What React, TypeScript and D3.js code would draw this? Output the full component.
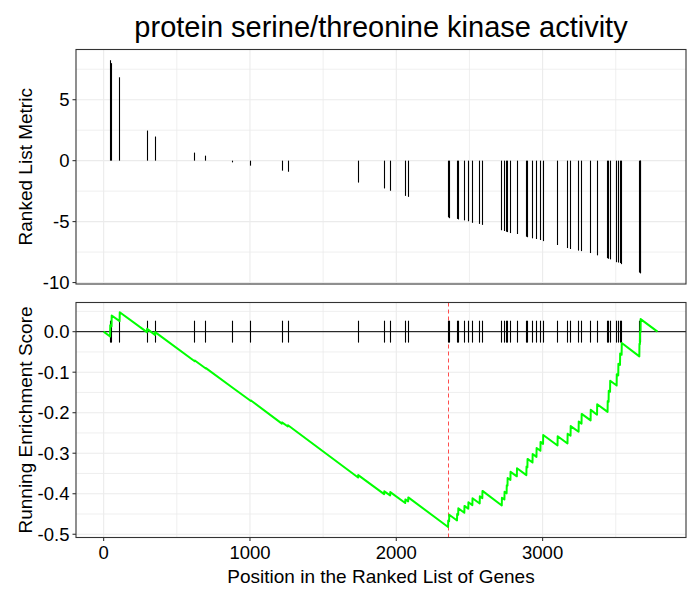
import React from "react";
import * as d3 from "d3";

const TITLE = "protein serine/threonine kinase activity";
const X_LABEL = "Position in the Ranked List of Genes";
const TOP_Y_LABEL = "Ranked List Metric";
const BOTTOM_Y_LABEL = "Running Enrichment Score";

// positions (rank) of the genes of the set in the ranked list
const hitPositions = [
  45, 55, 110, 297, 352, 623, 699, 884, 1007, 1219, 1260, 1740, 1918, 1959, 2062, 2082,
  2355, 2362, 2416, 2424, 2466, 2493, 2521, 2571, 2589, 2722, 2740, 2755, 2761, 2781,
  2825, 2890, 2897, 2932, 2959, 2986, 3004, 3103, 3171, 3192, 3247, 3267, 3329, 3373,
  3445, 3452, 3462, 3507, 3518, 3530, 3541, 3662, 3666, 3670,
];

// ranked list metric of those genes
const metricValues = [
  8.24, 8.0, 6.84, 2.47, 1.98, 0.66, 0.41, -0.14, -0.41, -0.82, -0.91, -1.8, -2.28, -2.47, -2.89, -2.97,
  -4.65, -4.72, -4.78, -4.82, -4.9, -4.97, -5.1, -5.19, -5.27, -5.71, -5.77, -5.83, -5.86, -5.94,
  -6.02, -6.24, -6.28, -6.37, -6.43, -6.51, -6.6, -6.92, -7.17, -7.25, -7.38, -7.42, -7.58, -7.77,
  -8.0, -8.05, -8.1, -8.33, -8.36, -8.4, -8.49, -9.18, -9.22, -9.25,
];

// running enrichment score vertices [position, score]
const runningScore: [number, number][] = [
  [0, 0.0],
  [44, -0.012], [45, 0.016], [54, 0.013], [55, 0.04], [109, 0.026], [110, 0.048],
  [296, -0.001], [297, 0.007], [351, -0.008], [352, -0.001], [622, -0.073], [623, -0.071],
  [698, -0.091], [699, -0.09], [884, -0.139], [1006, -0.171], [1007, -0.17],
  [1218, -0.227], [1219, -0.224], [1259, -0.234], [1260, -0.231], [1739, -0.36], [1740, -0.354],
  [1917, -0.401], [1918, -0.394], [1958, -0.404], [1959, -0.396], [2061, -0.423], [2062, -0.414],
  [2081, -0.419], [2082, -0.409], [2354, -0.482], [2355, -0.466], [2361, -0.468], [2362, -0.452],
  [2415, -0.466], [2416, -0.45], [2423, -0.452], [2424, -0.436], [2465, -0.447], [2466, -0.43],
  [2492, -0.437], [2493, -0.421], [2520, -0.428], [2521, -0.411], [2570, -0.424], [2571, -0.406],
  [2588, -0.411], [2589, -0.393], [2721, -0.429], [2722, -0.41], [2739, -0.414], [2740, -0.395],
  [2754, -0.399], [2755, -0.379], [2760, -0.38], [2761, -0.361], [2780, -0.366], [2781, -0.346],
  [2824, -0.357], [2825, -0.337], [2889, -0.354], [2890, -0.333], [2896, -0.335], [2897, -0.314],
  [2931, -0.323], [2932, -0.302], [2958, -0.309], [2959, -0.287], [2985, -0.294], [2986, -0.272],
  [3003, -0.277], [3004, -0.255], [3102, -0.281], [3103, -0.258], [3170, -0.276], [3171, -0.252],
  [3191, -0.257], [3192, -0.233], [3246, -0.247], [3247, -0.222], [3266, -0.227], [3267, -0.203],
  [3328, -0.219], [3329, -0.193], [3372, -0.205], [3373, -0.179], [3444, -0.198], [3445, -0.171],
  [3451, -0.173], [3452, -0.146], [3461, -0.148], [3462, -0.121], [3506, -0.133], [3507, -0.105],
  [3517, -0.108], [3518, -0.079], [3529, -0.082], [3530, -0.054], [3540, -0.057], [3541, -0.028],
  [3661, -0.061], [3662, -0.03], [3665, -0.031], [3666, 0.0], [3669, -0.001], [3670, 0.031],
  [3785, 0.0],
];

const peakPosition = 2355;

const xTicks = [0, 1000, 2000, 3000];
const xMinor = [500, 1500, 2500, 3500];
const topTicks = [5, 0, -5, -10];
const topMinor = [7.5, 2.5, -2.5, -7.5];
const bottomTicks = [0, -0.1, -0.2, -0.3, -0.4, -0.5];
const bottomMinor = [0.05, -0.05, -0.15, -0.25, -0.35, -0.45];

const FONT = "'Liberation Sans', Arial, sans-serif";
const GRID = "#EBEBEB";
const BORDER = "#333333";

export default function App() {
  const left = 76, right = 686;
  const top1 = 49.5, bot1 = 284;
  const top2 = 302.5, bot2 = 537.5;

  const x = d3.scaleLinear().domain([-189, 3980]).range([left, right]);
  const yTop = d3.scaleLinear().domain([-10.12, 9.12]).range([bot1, top1]);
  const yBot = d3.scaleLinear().domain([-0.508, 0.072]).range([bot2, top2]);
  const px = (p: number) => Math.round(x(p) - 0.5) + 0.5;

  const line = d3
    .line<[number, number]>()
    .x((d) => x(d[0]))
    .y((d) => yBot(d[1]));

  const tickHalf = 0.027;

  const grid = (yScale: d3.ScaleLinear<number, number>, yt: number, yb: number, major: number[], minor: number[]) => (
    <g>
      {minor.map((v) => (
        <line key={"hm" + v} x1={left} x2={right} y1={yScale(v)} y2={yScale(v)} stroke={GRID} strokeWidth={0.8} />
      ))}
      {xMinor.map((v) => (
        <line key={"vm" + v} x1={x(v)} x2={x(v)} y1={yt} y2={yb} stroke={GRID} strokeWidth={0.8} />
      ))}
      {major.map((v) => (
        <line key={"hM" + v} x1={left} x2={right} y1={yScale(v)} y2={yScale(v)} stroke={GRID} strokeWidth={1.1} />
      ))}
      {xTicks.map((v) => (
        <line key={"vM" + v} x1={x(v)} x2={x(v)} y1={yt} y2={yb} stroke={GRID} strokeWidth={1.1} />
      ))}
    </g>
  );

  return (
    <svg width={700} height={600} style={{ position: "absolute", left: 0, top: 0, background: "#fff" }}>
      <rect x={0} y={0} width={700} height={600} fill="#fff" />
      <text x={(left + right) / 2} y={37} textAnchor="middle" fontFamily={FONT} fontSize={29} fill="#000">
        {TITLE}
      </text>

      {/* top panel */}
      {grid(yTop, top1, bot1, topTicks, topMinor)}
      {hitPositions.map((p, i) => (
        <line key={"bar" + i} x1={px(p)} x2={px(p)} y1={yTop(0)} y2={yTop(metricValues[i])} stroke="#000" strokeWidth={1.1} />
      ))}
      <rect x={left} y={top1} width={right - left} height={bot1 - top1} fill="none" stroke={BORDER} strokeWidth={1.1} />
      {topTicks.map((v) => (
        <g key={"tt" + v}>
          <line x1={left - 3.5} x2={left} y1={yTop(v)} y2={yTop(v)} stroke={BORDER} strokeWidth={1.1} />
          <text x={69.5} y={yTop(v)} dy="0.36em" textAnchor="end" fontFamily={FONT} fontSize={18.5} fill="#000">
            {v}
          </text>
        </g>
      ))}
      <text
        transform={`translate(31.5,${(top1 + bot1) / 2}) rotate(-90)`}
        textAnchor="middle"
        fontFamily={FONT}
        fontSize={19}
        fill="#000"
      >
        {TOP_Y_LABEL}
      </text>

      {/* bottom panel */}
      {grid(yBot, top2, bot2, bottomTicks, bottomMinor)}
      <line x1={px(peakPosition)} x2={px(peakPosition)} y1={top2} y2={bot2} stroke="#FF4D4D" strokeWidth={1} strokeDasharray="4,3" />
      <line x1={left} x2={right} y1={yBot(0)} y2={yBot(0)} stroke="#000" strokeWidth={1} />
      {hitPositions.map((p, i) => (
        <line key={"tk" + i} x1={px(p)} x2={px(p)} y1={yBot(-tickHalf)} y2={yBot(tickHalf)} stroke="#000" strokeWidth={1.1} />
      ))}
      <path d={line(runningScore) || ""} fill="none" stroke="#00FF00" strokeWidth={2} strokeLinejoin="round" />
      <rect x={left} y={top2} width={right - left} height={bot2 - top2} fill="none" stroke={BORDER} strokeWidth={1.1} />
      {bottomTicks.map((v) => (
        <g key={"bt" + v}>
          <line x1={left - 3.5} x2={left} y1={yBot(v)} y2={yBot(v)} stroke={BORDER} strokeWidth={1.1} />
          <text x={69.5} y={yBot(v)} dy="0.36em" textAnchor="end" fontFamily={FONT} fontSize={18.5} fill="#000">
            {v.toFixed(1)}
          </text>
        </g>
      ))}
      <text
        transform={`translate(31.5,${(top2 + bot2) / 2}) rotate(-90)`}
        textAnchor="middle"
        fontFamily={FONT}
        fontSize={19}
        fill="#000"
      >
        {BOTTOM_Y_LABEL}
      </text>
      {xTicks.map((v) => (
        <g key={"xt" + v}>
          <line x1={x(v)} x2={x(v)} y1={bot2} y2={bot2 + 3.5} stroke={BORDER} strokeWidth={1.1} />
          <text x={x(v)} y={558.5} textAnchor="middle" fontFamily={FONT} fontSize={18.5} fill="#000">
            {v}
          </text>
        </g>
      ))}
      <text x={(left + right) / 2} y={583} textAnchor="middle" fontFamily={FONT} fontSize={19} fill="#000">
        {X_LABEL}
      </text>
    </svg>
  );
}
